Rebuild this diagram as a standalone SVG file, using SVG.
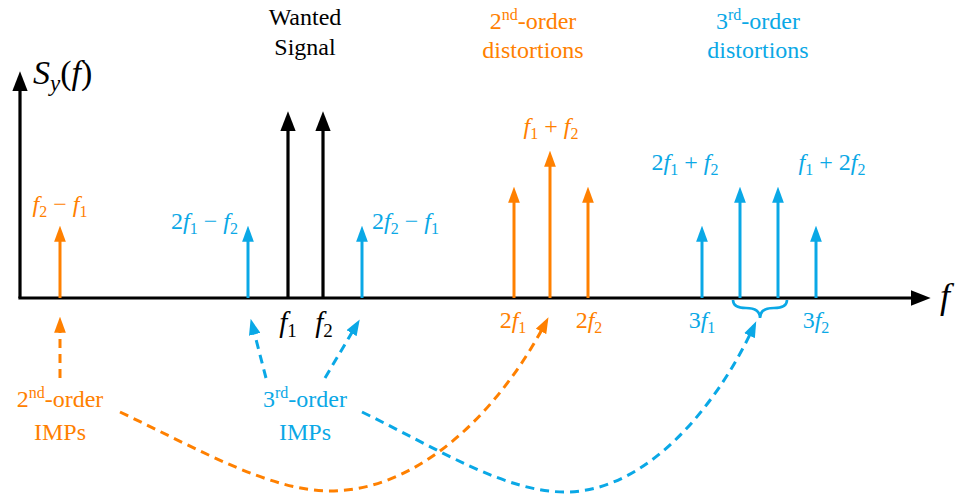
<svg xmlns="http://www.w3.org/2000/svg" width="960" height="495" viewBox="0 0 960 495" style="font-family:'Liberation Serif',serif !important">
<defs>
<marker id="ak" markerUnits="userSpaceOnUse" markerWidth="20" markerHeight="16" viewBox="0 0 18 14" refX="12" refY="7" orient="auto"><path d="M0,0 L18,7 L0,14 Z" fill="#000"/></marker>
<marker id="ao" markerUnits="userSpaceOnUse" markerWidth="16" markerHeight="12" viewBox="0 0 15 11" refX="10" refY="5.5" orient="auto"><path d="M0,0 L15,5.5 L0,11 Z" fill="#ff8000"/></marker>
<marker id="ab" markerUnits="userSpaceOnUse" markerWidth="16" markerHeight="12" viewBox="0 0 15 11" refX="10" refY="5.5" orient="auto"><path d="M0,0 L15,5.5 L0,11 Z" fill="#0aa8e6"/></marker>
</defs>

<g id="axes">
<g stroke="#000" stroke-width="3.2" fill="none">
<line x1="20" y1="298" x2="20" y2="78" marker-end="url(#ak)"/>
<line x1="18.4" y1="298" x2="924" y2="298" marker-end="url(#ak)"/>
</g>
<text style="font-family:'Liberation Serif',serif !important" x="33" y="84" font-size="34" fill="#000"><tspan font-style="italic">S</tspan><tspan font-style="italic" font-size="23" dy="7">y</tspan><tspan dy="-7">(</tspan><tspan font-style="italic">f</tspan>)</text>
<text style="font-family:'Liberation Serif',serif !important" x="940" y="308" font-size="36" fill="#000" font-style="italic">f</text>
</g>

<g id="spectral-lines" stroke-width="3" fill="none">
<g stroke="#ff8000">
<line x1="60" y1="298" x2="60" y2="231" marker-end="url(#ao)"/>
<line x1="514" y1="298" x2="514" y2="192" marker-end="url(#ao)"/>
<line x1="550" y1="298" x2="550" y2="156" marker-end="url(#ao)"/>
<line x1="588" y1="298" x2="588" y2="192" marker-end="url(#ao)"/>
</g>
<g stroke="#000" stroke-width="3.2">
<line x1="288" y1="298" x2="288" y2="118" marker-end="url(#ak)"/>
<line x1="323" y1="298" x2="323" y2="118" marker-end="url(#ak)"/>
</g>
<g stroke="#0aa8e6">
<line x1="248" y1="298" x2="248" y2="231" marker-end="url(#ab)"/>
<line x1="362" y1="298" x2="362" y2="231" marker-end="url(#ab)"/>
<line x1="702" y1="298" x2="702" y2="231" marker-end="url(#ab)"/>
<line x1="740" y1="298" x2="740" y2="192" marker-end="url(#ab)"/>
<line x1="778" y1="298" x2="778" y2="192" marker-end="url(#ab)"/>
<line x1="816" y1="298" x2="816" y2="231" marker-end="url(#ab)"/>
<path stroke-width="2.6" d="M733,300 Q733,308 746,308 Q760,308 760,318 Q760,308 774,308 Q787,308 787,300"/>
</g>
</g>

<g id="line-labels" font-size="24">
<text style="font-family:'Liberation Serif',serif !important" x="60" y="212" text-anchor="middle" fill="#ff8000"><tspan font-style="italic">f</tspan><tspan font-size="16" dy="5">2</tspan><tspan dy="-5"> − </tspan><tspan font-style="italic">f</tspan><tspan font-size="16" dy="5">1</tspan></text>
<text style="font-family:'Liberation Serif',serif !important" x="238" y="229" text-anchor="end" fill="#0aa8e6">2<tspan font-style="italic">f</tspan><tspan font-size="16" dy="5">1</tspan><tspan dy="-5"> − </tspan><tspan font-style="italic">f</tspan><tspan font-size="16" dy="5">2</tspan></text>
<text style="font-family:'Liberation Serif',serif !important" x="372" y="229" fill="#0aa8e6">2<tspan font-style="italic">f</tspan><tspan font-size="16" dy="5">2</tspan><tspan dy="-5"> − </tspan><tspan font-style="italic">f</tspan><tspan font-size="16" dy="5">1</tspan></text>
<text style="font-family:'Liberation Serif',serif !important" x="551" y="134" text-anchor="middle" fill="#ff8000"><tspan font-style="italic">f</tspan><tspan font-size="16" dy="5">1</tspan><tspan dy="-5"> + </tspan><tspan font-style="italic">f</tspan><tspan font-size="16" dy="5">2</tspan></text>
<text style="font-family:'Liberation Serif',serif !important" x="685" y="170" text-anchor="middle" fill="#0aa8e6">2<tspan font-style="italic">f</tspan><tspan font-size="16" dy="5">1</tspan><tspan dy="-5"> + </tspan><tspan font-style="italic">f</tspan><tspan font-size="16" dy="5">2</tspan></text>
<text style="font-family:'Liberation Serif',serif !important" x="832" y="170" text-anchor="middle" fill="#0aa8e6"><tspan font-style="italic">f</tspan><tspan font-size="16" dy="5">1</tspan><tspan dy="-5"> + 2</tspan><tspan font-style="italic">f</tspan><tspan font-size="16" dy="5">2</tspan></text>
<text style="font-family:'Liberation Serif',serif !important" x="288" y="332" text-anchor="middle" font-size="29" fill="#000"><tspan font-style="italic">f</tspan><tspan font-size="19" dy="5">1</tspan></text>
<text style="font-family:'Liberation Serif',serif !important" x="324" y="332" text-anchor="middle" font-size="29" fill="#000"><tspan font-style="italic">f</tspan><tspan font-size="19" dy="5">2</tspan></text>
<text style="font-family:'Liberation Serif',serif !important" x="513" y="328" text-anchor="middle" fill="#ff8000">2<tspan font-style="italic">f</tspan><tspan font-size="16" dy="5">1</tspan></text>
<text style="font-family:'Liberation Serif',serif !important" x="589" y="328" text-anchor="middle" fill="#ff8000">2<tspan font-style="italic">f</tspan><tspan font-size="16" dy="5">2</tspan></text>
<text style="font-family:'Liberation Serif',serif !important" x="702" y="328" text-anchor="middle" fill="#0aa8e6">3<tspan font-style="italic">f</tspan><tspan font-size="16" dy="5">1</tspan></text>
<text style="font-family:'Liberation Serif',serif !important" x="816" y="328" text-anchor="middle" fill="#0aa8e6">3<tspan font-style="italic">f</tspan><tspan font-size="16" dy="5">2</tspan></text>
</g>

<g id="group-labels" font-size="24" text-anchor="middle">
<text style="font-family:'Liberation Serif',serif !important" x="305" y="25" fill="#000">Wanted</text>
<text style="font-family:'Liberation Serif',serif !important" x="305" y="55" fill="#000">Signal</text>
<text style="font-family:'Liberation Serif',serif !important" x="533" y="29" fill="#ff8000">2<tspan font-size="16" dy="-9">nd</tspan><tspan dy="9">-order</tspan></text>
<text style="font-family:'Liberation Serif',serif !important" x="533" y="58" fill="#ff8000">distortions</text>
<text style="font-family:'Liberation Serif',serif !important" x="758" y="29" fill="#0aa8e6">3<tspan font-size="16" dy="-9">rd</tspan><tspan dy="9">-order</tspan></text>
<text style="font-family:'Liberation Serif',serif !important" x="758" y="58" fill="#0aa8e6">distortions</text>
<text style="font-family:'Liberation Serif',serif !important" x="60" y="407" fill="#ff8000">2<tspan font-size="16" dy="-9">nd</tspan><tspan dy="9">-order</tspan></text>
<text style="font-family:'Liberation Serif',serif !important" x="60" y="440" fill="#ff8000">IMPs</text>
<text style="font-family:'Liberation Serif',serif !important" x="305" y="407" fill="#0aa8e6">3<tspan font-size="16" dy="-9">rd</tspan><tspan dy="9">-order</tspan></text>
<text style="font-family:'Liberation Serif',serif !important" x="305" y="440" fill="#0aa8e6">IMPs</text>
</g>

<g id="connectors" stroke-width="3" fill="none" stroke-dasharray="9 6">
<g stroke="#ff8000">
<line x1="60" y1="378" x2="60" y2="322" marker-end="url(#ao)"/>
<path d="M120,412 C200,450 270,491 330,491 C420,491 500,410 546,322" marker-end="url(#ao)"/>
</g>
<g stroke="#0aa8e6">
<line x1="266" y1="378" x2="252" y2="324" marker-end="url(#ab)"/>
<line x1="325" y1="378" x2="357" y2="324" marker-end="url(#ab)"/>
<path d="M362,412 C440,450 505,492 565,492 C650,492 720,400 754,326" marker-end="url(#ab)"/>
</g>
</g>
</svg>
